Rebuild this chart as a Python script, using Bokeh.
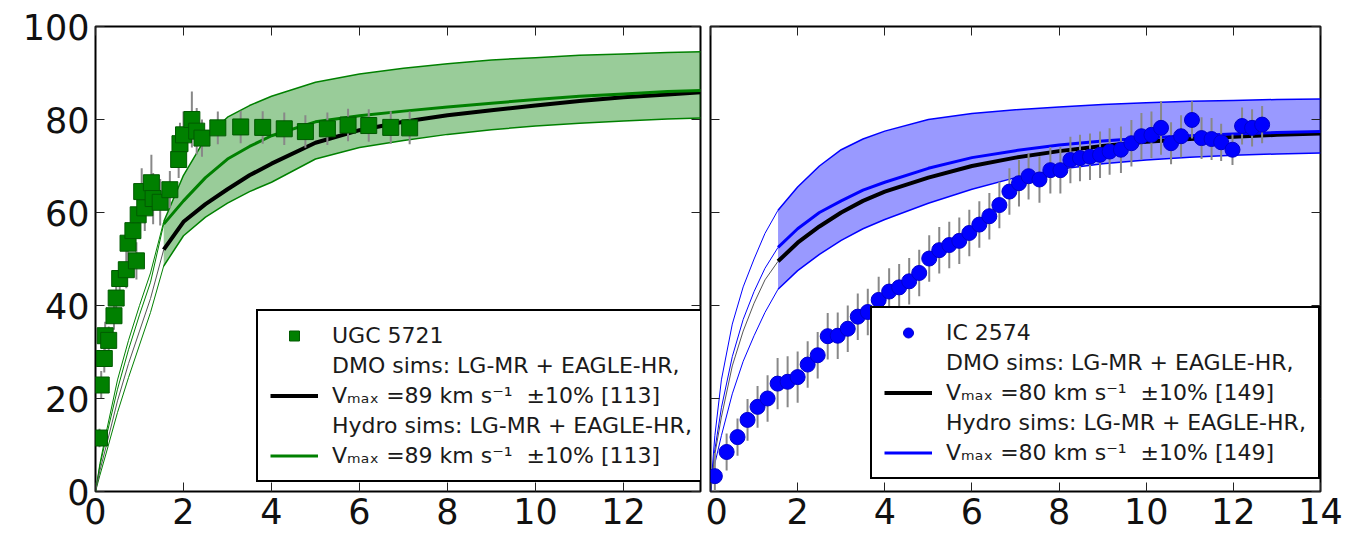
from bokeh.plotting import figure
from bokeh.models import (Range1d, FixedTicker, LinearAxis, Legend, LegendItem,
                          ColumnDataSource, CustomLabelingPolicy)
from bokeh.layouts import row
from bokeh.embed import file_html
from bokeh.resources import INLINE

# ---------------- data ----------------
x_ticks = [0, 2, 4, 6, 8, 10, 12, 14]
y_ticks = [0, 20, 40, 60, 80, 100]

# UGC 5721 observed rotation curve
ugc_r = [0.09, 0.13, 0.2, 0.22, 0.3, 0.42, 0.47, 0.55, 0.7, 0.74,
         0.85, 0.93, 0.97, 1.05, 1.12, 1.27, 1.31, 1.47, 1.69, 1.89,
         1.92, 2.0, 2.19, 2.3, 2.42, 2.78, 3.3, 3.8, 4.29, 4.77,
         5.27, 5.74, 6.21, 6.71, 7.14]
ugc_v = [11.5, 22.9, 28.6, 33.5, 32.5, 37.8, 41.6, 45.8, 47.7, 53.4,
         56.1, 49.6, 59.5, 64.5, 61.0, 66.4, 63.0, 62.2, 64.9, 71.4,
         74.8, 76.7, 80.0, 77.5, 76.0, 78.2, 78.4, 78.3, 78.0, 77.4,
         78.0, 78.8, 78.7, 78.3, 78.2]
ugc_err = [2, 3, 3, 3, 3, 3, 3, 3.5, 4, 4,
           4, 4, 4.5, 5, 5, 6, 5.5, 5, 4, 4,
           4.5, 5, 6, 5, 4, 3.5, 3.5, 3.5, 3.5, 3.5,
           3.5, 3.5, 3.5, 3.5, 3.5]

# simulation curves (common radius grid)
curve_r = [0, 0.1, 0.25, 0.5, 0.75, 1.0, 1.25, 1.55, 2, 2.5, 3, 3.5, 4,
           5, 6, 7, 8, 9, 10, 11, 12, 13, 14]
ugc_dmo = [0, 4.5, 10, 19.5, 27.5, 34.5, 41.5, 52, 58, 61.8, 65, 68, 70.5,
           75, 77.7, 79.5, 80.9, 82, 83, 84, 84.8, 85.4, 86]
ugc_hydro = [0, 5.5, 12, 22, 30.5, 38, 45, 57.5, 62.5, 67.5, 71.5, 74.2, 76.5,
             79.5, 80.8, 81.8, 82.7, 83.5, 84.3, 85, 85.5, 86, 86.3]
ugc_hi = [0, 6, 13, 24, 32.5, 40, 47, 58, 68, 76, 80.5, 83, 85,
          88, 89.8, 91, 92, 92.8, 93.3, 93.8, 94.1, 94.4, 94.6]
ugc_lo = [0, 3.5, 8.5, 17, 24.5, 31.5, 38.5, 48.5, 55, 59, 62, 64.5, 66.5,
          71.5, 74, 75.5, 76.8, 77.8, 78.6, 79.2, 79.7, 80.1, 80.4]

# IC 2574 observed rotation curve
ic_r = [0.1, 0.37, 0.62, 0.85, 1.08, 1.31, 1.54, 1.77, 2.0, 2.23,
        2.46, 2.69, 2.92, 3.15, 3.38, 3.61, 3.86, 4.1, 4.33, 4.56,
        4.79, 5.02, 5.25, 5.48, 5.71, 5.94, 6.17, 6.4, 6.63, 6.86,
        7.08, 7.3, 7.55, 7.8, 8.03, 8.26, 8.48, 8.71, 8.94, 9.16,
        9.42, 9.66, 9.89, 10.12, 10.34, 10.57, 10.8, 11.05, 11.27, 11.5,
        11.72, 11.98, 12.2, 12.43, 12.66]
ic_v = [3.3, 8.5, 11.7, 15.4, 18.2, 20.0, 23.2, 23.6, 24.6, 27.3,
        29.3, 33.4, 33.5, 35.0, 37.6, 38.6, 41.2, 43.0, 43.9, 45.2,
        47.0, 50.1, 51.9, 53.0, 53.9, 55.6, 57.4, 59.2, 61.6, 64.5,
        66.3, 67.8, 67.1, 69.1, 69.1, 71.3, 71.7, 72.0, 72.4, 73.1,
        73.5, 74.9, 76.4, 76.7, 78.2, 74.9, 76.4, 79.9, 76.0, 75.8,
        75.1, 73.5, 78.6, 78.2, 78.9]
ic_err = [5, 4, 4, 4.5, 4.5, 5, 5.5, 5.5, 5.5, 5,
          5, 5, 5, 5, 5, 5, 5, 5, 5, 5,
          5, 5, 5, 5, 5, 5, 5, 5, 5, 5,
          5, 5, 5, 5, 5, 5, 5, 5, 5, 5,
          5, 5, 5, 5, 5.8, 4.5, 4.5, 4, 4.5, 4.5,
          4, 3.3, 4, 4, 4]
ic_dmo = [0, 8, 16, 27, 34.5, 40.5, 45.5, 49.5, 53.5, 57, 60, 62.5, 64.5,
          67.5, 70, 71.8, 73.2, 74.3, 75.2, 75.8, 76.3, 76.7, 77]
ic_hydro = [0, 9, 18, 29, 37, 43, 48, 52.5, 56.5, 60, 62.5, 64.8, 66.5,
            69.5, 71.8, 73.3, 74.5, 75.4, 76, 76.5, 76.9, 77.2, 77.4]
ic_hi = [0, 12, 24, 36, 44, 50, 55.5, 60.5, 65.5, 70, 73.5, 75.8, 77.5,
         80, 81.3, 82.1, 82.7, 83.2, 83.6, 83.9, 84.1, 84.3, 84.4]
ic_lo = [0, 6, 12, 21, 28, 33.5, 38.5, 43.5, 47.5, 51, 54, 56.5, 58.5,
         62, 65, 67.5, 69.3, 70.5, 71.3, 71.9, 72.3, 72.6, 72.8]

FONT = "DejaVu Sans"
CUT = curve_r.index(1.55)

NO_LABELS = """
const n = indices.size
for (let i = 0; i < n; i++) { indices.unset(i) }
return indices
"""


def style_axis(ax, ticks, labels):
    ax.ticker = FixedTicker(ticks=ticks)
    ax.major_tick_in = 9
    ax.major_tick_out = 0
    ax.minor_tick_line_color = None
    ax.major_tick_line_color = "#222222"
    ax.major_tick_line_width = 1
    ax.axis_line_color = None
    if labels:
        ax.major_label_text_font = FONT
        ax.major_label_text_font_size = "35px"
        ax.major_label_text_color = "#111111"
        ax.major_label_standoff = 6
    else:
        ax.major_label_text_font_size = "1px"
        ax.major_label_standoff = 0
        ax.major_label_policy = CustomLabelingPolicy(code=NO_LABELS)


def panel(width, xmax, borders, ylabels, obs_r, obs_v, obs_err, marker, msize,
          mcolor, medge, dmo, hydro, hi, lo, color, name, vtxt, legend_loc):
    bl, br, bt, bb = borders
    p = figure(width=width, height=536, x_range=Range1d(0, xmax),
               y_range=Range1d(0, 100), output_backend="svg",
               toolbar_location=None, min_border_left=bl, min_border_right=br,
               min_border_top=bt, min_border_bottom=bb)
    p.grid.visible = False
    p.outline_line_color = "black"
    p.outline_line_width = 2
    p.background_fill_color = "white"
    p.border_fill_color = "white"
    p.add_layout(LinearAxis(), "above")
    p.add_layout(LinearAxis(), "right")
    style_axis(p.below[0], x_ticks, True)
    style_axis(p.above[0], x_ticks, False)
    style_axis(p.left[0], y_ticks, ylabels)
    style_axis(p.right[0], y_ticks, False)

    thick = ColumnDataSource(dict(r=curve_r[CUT:], dmo=dmo[CUT:], hydro=hydro[CUT:],
                                  hi=hi[CUT:], lo=lo[CUT:]))
    thin = ColumnDataSource(dict(r=curve_r[:CUT + 1], dmo=dmo[:CUT + 1],
                                 hydro=hydro[:CUT + 1], hi=hi[:CUT + 1], lo=lo[:CUT + 1]))
    # band
    p.varea(x="r", y1="lo", y2="hi", source=thick, fill_color=color, fill_alpha=0.4)
    p.line("r", "hi", source=thick, line_color=color, line_width=1.5)
    p.line("r", "lo", source=thick, line_color=color, line_width=1.5)
    p.line("r", "hi", source=thin, line_color=color, line_width=1)
    p.line("r", "lo", source=thin, line_color=color, line_width=1)
    p.line("r", "hydro", source=thin, line_color=color, line_width=1)
    p.line("r", "dmo", source=thin, line_color="#555555", line_width=1)
    r_dmo = p.line("r", "dmo", source=thick, line_color="black", line_width=4)
    r_hyd = p.line("r", "hydro", source=thick, line_color=color, line_width=3)

    obs = ColumnDataSource(dict(r=obs_r, v=obs_v,
                                lo=[v - e for v, e in zip(obs_v, obs_err)],
                                hi=[v + e for v, e in zip(obs_v, obs_err)]))
    p.segment(x0="r", y0="lo", x1="r", y1="hi", source=obs,
              line_color="#888888", line_width=2)
    r_obs = p.scatter("r", "v", source=obs, marker=marker, size=msize,
                      fill_color=mcolor, line_color=medge, line_width=1)

    dummy = p.line(x=[], y=[], line_alpha=0)
    legend = Legend(items=[
        LegendItem(label=name, renderers=[r_obs]),
        LegendItem(label="DMO sims: LG-MR + EAGLE-HR,", renderers=[dummy]),
        LegendItem(label=vtxt, renderers=[r_dmo]),
        LegendItem(label="Hydro sims: LG-MR + EAGLE-HR,", renderers=[dummy]),
        LegendItem(label=vtxt, renderers=[r_hyd]),
    ], location=legend_loc)
    legend.border_line_color = "black"
    legend.border_line_width = 2
    legend.border_line_alpha = 1
    legend.background_fill_color = "white"
    legend.background_fill_alpha = 1
    legend.label_text_font = FONT
    legend.label_text_font_size = "22px"
    legend.label_text_color = "#1a1a1a"
    legend.glyph_width = 48
    legend.glyph_height = 25
    legend.label_height = 25
    legend.spacing = 5
    legend.padding = 12
    legend.label_standoff = 14
    legend.margin = 0
    p.add_layout(legend)
    return p


p1 = panel(705, 13.75, (95, 2, 21, 45), True, ugc_r, ugc_v, ugc_err, "square", 16,
           "#008000", "#005a00", ugc_dmo, ugc_hydro, ugc_hi, ugc_lo, "#008000",
           "UGC 5721", "V\u2098\u2090\u2093 =89 km s\u207b\u00b9  \u00b110% [113]", (161, 9))
p2 = panel(647, 14, (2, 32, 26, 44), False, ic_r, ic_v, ic_err, "circle", 15,
           "#0000ff", "#0000cc", ic_dmo, ic_hydro, ic_hi, ic_lo, "#0000ff",
           "IC 2574", "V\u2098\u2090\u2093 =80 km s\u207b\u00b9  \u00b110% [149]", (160, 12))

layout = row(p1, p2)
open("out.html", "w").write(file_html(layout, INLINE))
